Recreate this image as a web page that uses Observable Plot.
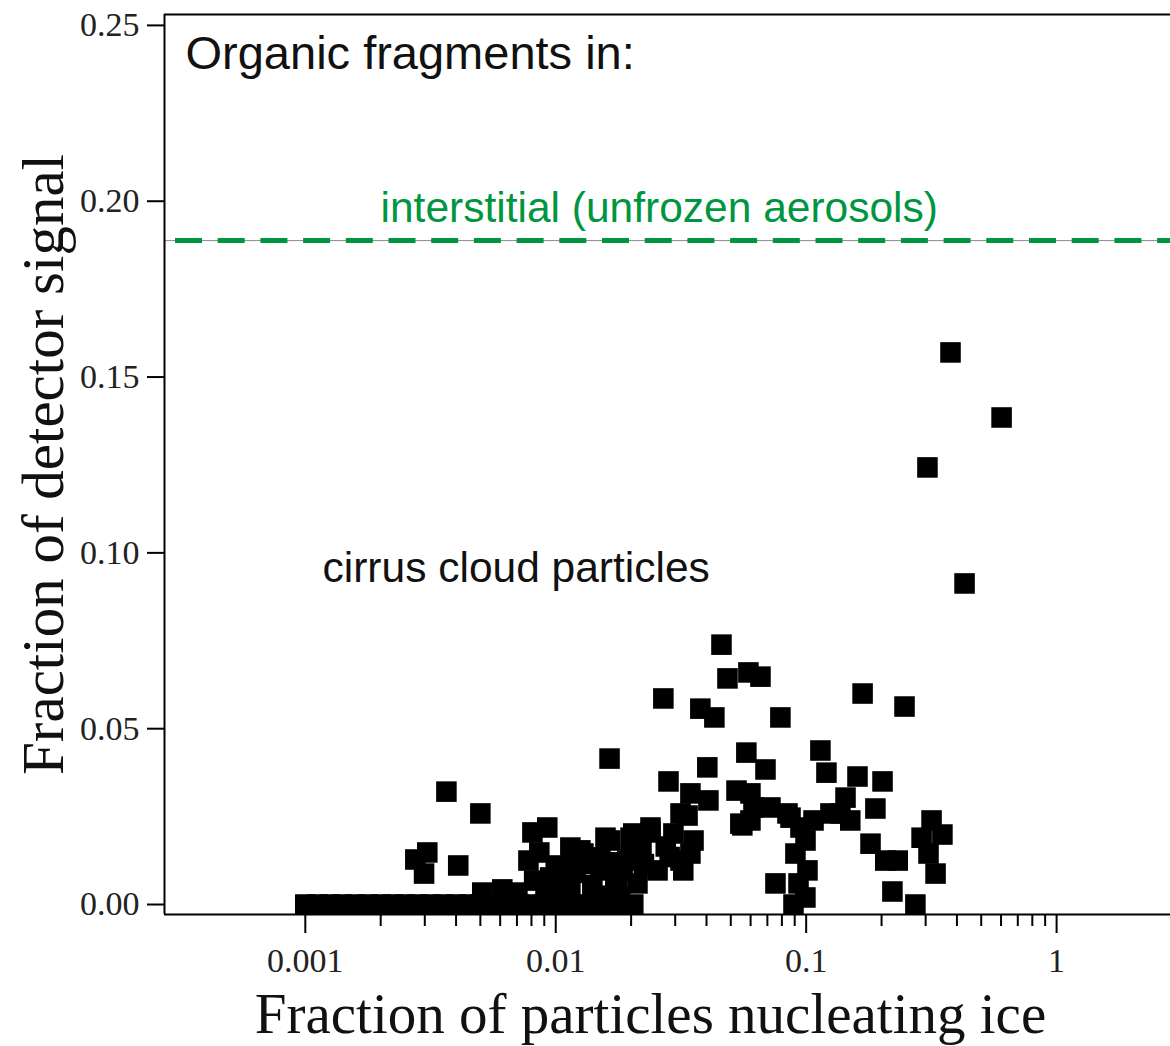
<!DOCTYPE html>
<html>
<head>
<meta charset="utf-8">
<script src="https://cdn.jsdelivr.net/npm/d3@7"></script>
<script src="https://cdn.jsdelivr.net/npm/@observablehq/plot@0.6"></script>
<style>
  html, body { margin: 0; padding: 0; background: #fff; }
</style>
</head>
<body>
<div id="chart"></div>
<script>
// Fraction of particles nucleating ice (x) and fraction of the organic
// detector signal (y) for each sampled cirrus cloud particle set.
const nucleatingFraction = [
  // measurements with no organic signal
  0.001, 0.00112, 0.00125, 0.0014, 0.00158, 0.00178, 0.002, 0.00224, 0.0025,
  0.0028, 0.00316, 0.00355, 0.004, 0.0045, 0.005, 0.0056, 0.0063, 0.0071,
  0.008, 0.009, 0.01, 0.0112, 0.0126, 0.0141, 0.0158, 0.0178, 0.0204,
  // low nucleating fractions
  0.00509, 0.00612, 0.00703,
  0.00366, 0.0050, 0.00307, 0.00275, 0.00298, 0.00408,
  0.00807, 0.00925, 0.00778, 0.0086, 0.0100, 0.0091, 0.0095,
  0.01144, 0.0129, 0.01144, 0.01508, 0.01508, 0.0199, 0.0176, 0.0212, 0.0173,
  0.0165, 0.0199, 0.0239, 0.0295, 0.0158, 0.01254, 0.0193, 0.0315, 0.0255,
  0.0323, 0.0181, 0.0204, 0.0239,
  0.0105, 0.012, 0.014, 0.0135, 0.0165, 0.0185, 0.022, 0.0108, 0.0148,
  0.0225, 0.0275, 0.0285, 0.0082, 0.0118,
  0.0345, 0.0336, 0.0345, 0.0355, 0.0315,
  0.0164, 0.0269, 0.0282,
  // intermediate nucleating fractions
  0.0378, 0.0430, 0.0459, 0.0485, 0.0588, 0.0657, 0.0789,
  0.168, 0.247,
  0.0577, 0.0688, 0.0403,
  0.114, 0.1205, 0.1603, 0.2018, 0.189, 0.1436, 0.150, 0.137,
  0.3167, 0.350, 0.289, 0.308, 0.3286,
  0.221, 0.273,
  0.1807, 0.207, 0.232,
  0.0754, 0.089,
  0.0949, 0.0994, 0.0906, 0.1012, 0.0932, 0.0993,
  0.0599, 0.0599, 0.072, 0.0842, 0.107, 0.125,
  0.0407, 0.0527, 0.0556, 0.0616, 0.0546, 0.0866,
  // high nucleating fractions
  0.377, 0.603, 0.305, 0.429
];

const detectorSignal = [
  0, 0, 0, 0, 0, 0, 0, 0, 0,
  0, 0, 0, 0, 0, 0, 0, 0, 0,
  0, 0, 0, 0, 0, 0, 0, 0, 0,
  0.0034, 0.0043, 0.0034,
  0.0321, 0.0259, 0.0148, 0.0128, 0.0088, 0.0111,
  0.0205, 0.0219, 0.0125, 0.0148, 0.0111, 0.0054, 0.0077,
  0.0162, 0.0145, 0.0048, 0.0097, 0.0134, 0.0134, 0.0048, 0.006, 0.0077,
  0.0182, 0.019, 0.0205, 0.0202, 0.019, 0.0154, 0.0125, 0.0125, 0.0097,
  0.0097, 0.002, 0.0202, 0.0219,
  0.0065, 0.009, 0.0055, 0.0115, 0.012, 0.0095, 0.0155, 0.0022, 0.0025,
  0.0115, 0.0165, 0.0135, 0.0068, 0.0135,
  0.0316, 0.0253, 0.0145, 0.0182, 0.0259,
  0.0415, 0.0586, 0.035,
  0.0557, 0.0532, 0.0739, 0.0643, 0.066, 0.0648, 0.0532,
  0.060, 0.0563,
  0.0432, 0.0384, 0.039,
  0.0438, 0.0375, 0.0364, 0.035, 0.0273, 0.0304, 0.0239, 0.0259,
  0.0239, 0.0199, 0.019, 0.0145, 0.0088,
  0.0037, 0,
  0.0173, 0.0125, 0.0125,
  0.006, 0,
  0.0219, 0.0182, 0.0145, 0.0097, 0.006, 0.002,
  0.0316, 0.0239, 0.0276, 0.0259, 0.0239, 0.0259,
  0.0296, 0.0324, 0.0225, 0.0276, 0.023, 0.0247,
  0.157, 0.1385, 0.1243, 0.0913
];

// Organic fraction measured in the interstitial (unfrozen) aerosol
const interstitialLevel = 0.1888;

// Axis ticks and labels
const yTicks = [0, 0.05, 0.10, 0.15, 0.20, 0.25];
const xTicks = [0.001, 0.01, 0.1, 1];
const xTickLabels = ["0.001", "0.01", "0.1", "1"];
const xMinorTicks = xTicks.slice(0, 3).flatMap(d => [2, 3, 4, 5, 6, 7, 8, 9].map(m => m * d));

const xDomain = [0.000274, 2.85];
const yDomain = [-0.00284, 0.2531];

const points = nucleatingFraction.map((x, i) => ({x, y: detectorSignal[i]}));

const serif = "'Liberation Serif', 'Times New Roman', serif";
const sans = "'Liberation Sans', Arial, Helvetica, sans-serif";
const green = "#00963f";

const chart = Plot.plot({
  width: 1170,
  height: 1046,
  marginTop: 14,
  marginRight: 0,
  marginBottom: 132,
  marginLeft: 164,
  style: {fontFamily: serif, fontSize: "34px", color: "#000", background: "#fff"},
  x: {type: "log", domain: xDomain},
  y: {domain: yDomain},
  marks: [
    // interstitial reference level: thin grey line under a thick green dash
    Plot.ruleY([interstitialLevel], {stroke: "#8c8c8c", strokeWidth: 1}),
    Plot.ruleY([interstitialLevel], {
      stroke: green, strokeWidth: 5, strokeDasharray: "27 15.7", strokeDashoffset: 31.7
    }),
    // cirrus particle measurements
    Plot.dot(points, {x: "x", y: "y", symbol: "square", r: 11.6, fill: "#000", stroke: "none"}),
    // plot border (left, top, bottom)
    Plot.ruleX([xDomain[0]], {strokeWidth: 2}),
    Plot.ruleY([yDomain[1]], {strokeWidth: 2}),
    Plot.ruleY([yDomain[0]], {strokeWidth: 2}),
    // axes
    Plot.axisY({
      ticks: yTicks, tickSize: 17, tickPadding: 8, tickFormat: d3.format(".2f"),
      strokeWidth: 2, label: null, fill: "#222"
    }),
    Plot.axisX({
      ticks: xTicks, tickSize: 19, tickPadding: 14,
      tickFormat: d => xTickLabels[xTicks.indexOf(d)],
      strokeWidth: 2, label: null, fill: "#222"
    }),
    Plot.axisX({ticks: xMinorTicks, tickSize: 12, tickFormat: () => "", strokeWidth: 2, label: null}),
    // axis titles
    Plot.text(["Fraction of detector signal"], {
      text: d => d, frameAnchor: "left", rotate: -90, dx: -102,
      textAnchor: "middle", lineAnchor: "bottom", fontSize: 59, fill: "#111"
    }),
    Plot.text(["Fraction of particles nucleating ice"], {
      text: d => d, frameAnchor: "bottom", dx: -17, dy: 118,
      textAnchor: "middle", lineAnchor: "bottom", fontSize: 57, fill: "#111"
    }),
    // annotations
    Plot.text(["Organic fragments in:"], {
      text: d => d, frameAnchor: "top-left", dx: 21, dy: 54,
      textAnchor: "start", lineAnchor: "bottom", fontFamily: sans, fontSize: 47, fill: "#111"
    }),
    Plot.text([interstitialLevel], {
      y: d => d, text: () => "interstitial (unfrozen aerosols)", frameAnchor: "left",
      dx: 216, dy: -19, textAnchor: "start", lineAnchor: "bottom",
      fontFamily: sans, fontSize: 42.5, fill: green
    }),
    Plot.text(["cirrus cloud particles"], {
      text: d => d, frameAnchor: "top-left", dx: 158, dy: 567,
      textAnchor: "start", lineAnchor: "bottom", fontFamily: sans, fontSize: 42.5, fill: "#111"
    })
  ]
});

document.getElementById("chart").appendChild(chart);
</script>
</body>
</html>
